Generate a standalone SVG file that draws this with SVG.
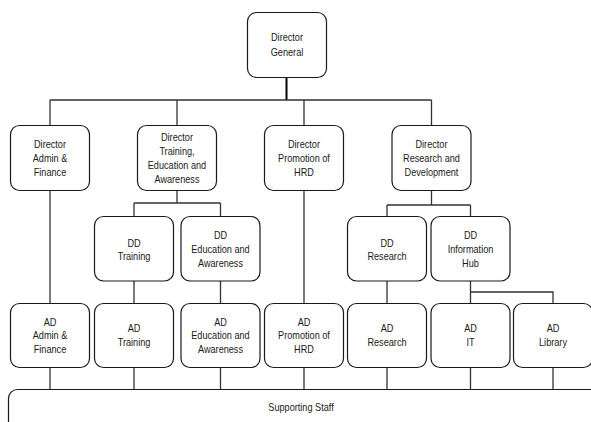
<svg xmlns="http://www.w3.org/2000/svg" width="591" height="422" viewBox="0 0 591 422">
<style>
.box{fill:#fff;stroke:#1a1a1a;stroke-width:1.2}
.t{font-family:"Liberation Sans",Arial,sans-serif;font-size:10.4px;fill:#1a1a1a;text-anchor:middle}
.c{fill:none;stroke:#333;stroke-width:1.3}
</style>
<rect width="591" height="422" fill="#fff"/>
<g id="connectors">
<path d="M286.5,77.5V100" fill="none" stroke="#000" stroke-width="2"/>
<path class="c" d="M50,100H431.5M50,100V125.5M177,100V125.5M304,100V125.5M431.5,100V125.5"/>
<path class="c" d="M50,190.5V303.5M304,190.5V303.5"/>
<path class="c" d="M177,190.5V203M134,203H220.5M134,203V216.5M220.5,203V216.5M134,281V303.5M220.5,281V303.5"/>
<path class="c" d="M431.5,190.5V205M387,205H470.5M387,205V216.5M470.5,205V216.5M387,281V303.5M470.5,281V303.5M470.5,292H553V303.5"/>
<path class="c" d="M50,367.5V389.5M134,367.5V389.5M220.5,367.5V389.5M304,367.5V389.5M387,367.5V389.5M470.5,367.5V389.5M553,367.5V389.5"/>
</g>
<g id="dg"><rect class="box" x="247.5" y="12.5" width="79" height="65" rx="9"/><text class="t" transform="matrix(0.88 0 0 1 34.44 0)"><tspan x="287" y="41.5">Director</tspan><tspan x="287" y="56">General</tspan></text></g>
<g id="dir-admin"><rect class="box" x="10.5" y="125.5" width="79" height="65" rx="9"/><text class="t" transform="matrix(0.88 0 0 1 6 0)"><tspan x="50" y="147.8">Director</tspan><tspan x="50" y="161.8">Admin &amp;</tspan><tspan x="50" y="175.8">Finance</tspan></text></g>
<g id="dir-training"><rect class="box" x="137.5" y="125.5" width="79" height="65" rx="9"/><text class="t" transform="matrix(0.88 0 0 1 21.24 0)"><tspan x="177" y="141.2">Director</tspan><tspan x="177" y="155.2">Training,</tspan><tspan x="177" y="169.2">Education and</tspan><tspan x="177" y="183">Awareness</tspan></text></g>
<g id="dir-promotion"><rect class="box" x="264.5" y="125.5" width="79" height="65" rx="9"/><text class="t" transform="matrix(0.88 0 0 1 36.48 0)"><tspan x="304" y="147.8">Director</tspan><tspan x="304" y="161.8">Promotion of</tspan><tspan x="304" y="175.8">HRD</tspan></text></g>
<g id="dir-research"><rect class="box" x="392" y="125.5" width="79" height="65" rx="9"/><text class="t" transform="matrix(0.88 0 0 1 51.78 0)"><tspan x="431.5" y="148.5">Director</tspan><tspan x="431.5" y="162">Research and</tspan><tspan x="431.5" y="175.8">Development</tspan></text></g>
<g id="dd-training"><rect class="box" x="94.5" y="216.5" width="79" height="64.5" rx="9"/><text class="t" transform="matrix(0.88 0 0 1 16.08 0)"><tspan x="134" y="246.8">DD</tspan><tspan x="134" y="259.8">Training</tspan></text></g>
<g id="dd-education"><rect class="box" x="181" y="216.5" width="79" height="64.5" rx="9"/><text class="t" transform="matrix(0.88 0 0 1 26.46 0)"><tspan x="220.5" y="239.2">DD</tspan><tspan x="220.5" y="253.2">Education and</tspan><tspan x="220.5" y="266.8">Awareness</tspan></text></g>
<g id="dd-research"><rect class="box" x="347.5" y="216.5" width="79" height="64.5" rx="9"/><text class="t" transform="matrix(0.88 0 0 1 46.44 0)"><tspan x="387" y="246.8">DD</tspan><tspan x="387" y="259.8">Research</tspan></text></g>
<g id="dd-infohub"><rect class="box" x="431" y="216.5" width="79" height="64.5" rx="9"/><text class="t" transform="matrix(0.88 0 0 1 56.46 0)"><tspan x="470.5" y="239.2">DD</tspan><tspan x="470.5" y="253.2">Information</tspan><tspan x="470.5" y="266.8">Hub</tspan></text></g>
<g id="ad-admin"><rect class="box" x="10.5" y="303.5" width="79" height="64" rx="9"/><text class="t" transform="matrix(0.88 0 0 1 6 0)"><tspan x="50" y="325.8">AD</tspan><tspan x="50" y="339.5">Admin &amp;</tspan><tspan x="50" y="352.8">Finance</tspan></text></g>
<g id="ad-training"><rect class="box" x="94.5" y="303.5" width="79" height="64" rx="9"/><text class="t" transform="matrix(0.88 0 0 1 16.08 0)"><tspan x="134" y="331.8">AD</tspan><tspan x="134" y="345.8">Training</tspan></text></g>
<g id="ad-education"><rect class="box" x="181" y="303.5" width="79" height="64" rx="9"/><text class="t" transform="matrix(0.88 0 0 1 26.46 0)"><tspan x="220.5" y="325.8">AD</tspan><tspan x="220.5" y="339.5">Education and</tspan><tspan x="220.5" y="352.8">Awareness</tspan></text></g>
<g id="ad-promotion"><rect class="box" x="264.5" y="303.5" width="79" height="64" rx="9"/><text class="t" transform="matrix(0.88 0 0 1 36.48 0)"><tspan x="304" y="325.8">AD</tspan><tspan x="304" y="339.5">Promotion of</tspan><tspan x="304" y="352.8">HRD</tspan></text></g>
<g id="ad-research"><rect class="box" x="347.5" y="303.5" width="79" height="64" rx="9"/><text class="t" transform="matrix(0.88 0 0 1 46.44 0)"><tspan x="387" y="331.8">AD</tspan><tspan x="387" y="345.8">Research</tspan></text></g>
<g id="ad-it"><rect class="box" x="431" y="303.5" width="79" height="64" rx="9"/><text class="t" transform="matrix(0.88 0 0 1 56.46 0)"><tspan x="470.5" y="331.8">AD</tspan><tspan x="470.5" y="345.8">IT</tspan></text></g>
<g id="ad-library"><rect class="box" x="513.5" y="303.5" width="79" height="64" rx="9"/><text class="t" transform="matrix(0.88 0 0 1 66.36 0)"><tspan x="553" y="331.8">AD</tspan><tspan x="553" y="345.8">Library</tspan></text></g>
<g id="supporting-staff"><rect class="box" x="8.5" y="389.5" width="620" height="80" rx="9"/><text class="t" x="301" y="411.5" transform="matrix(0.88 0 0 1 36.12 0)">Supporting Staff</text></g>
</svg>
